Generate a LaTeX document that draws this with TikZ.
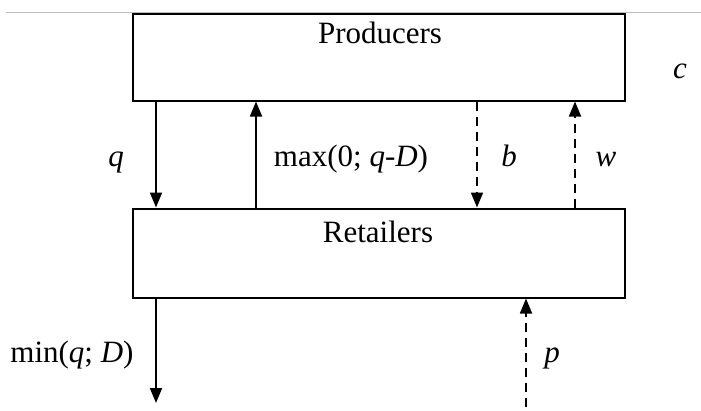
\documentclass[tikz,border=0pt]{standalone}
\usepackage{fontspec}
\setmainfont{Liberation Serif}
\usetikzlibrary{arrows.meta}
\begin{document}
\begin{tikzpicture}[x=1pt,y=-1pt,
  every node/.style={font=\fontsize{31}{36}\selectfont, inner sep=0pt},
  party/.style={draw, line width=2pt, minimum width=492pt},
  flow/.style={line width=1.8pt, -{Triangle[length=15pt,width=12pt]}},
  info/.style={flow, dash pattern=on 9pt off 6pt},
  lbl/.style={anchor=base}]
  \useasboundingbox (0,0) rectangle (701,410);
  % thin rule across the top
  \draw[gray!50, line width=1pt] (6,12) -- (701,12);
  % the two boxes
  \node[party, minimum height=87pt] (prod) at (379,57) {};
  \node[party, minimum height=89pt] (ret) at (379,253) {};
  \node[lbl] (prodt) at (380,43) {Producers};
  \node[lbl] (rett) at (378,242) {Retailers};
  \node[lbl] (c) at (680,78) {\textit{c}};
  % column positions of the flows
  \coordinate (xq) at (156,0);
  \coordinate (xm) at (256,0);
  \coordinate (xb) at (477,0);
  \coordinate (xw) at (575,0);
  \coordinate (minend) at (156,403);
  \coordinate (pstart) at (526,407);
  % physical flows
  \draw[flow] (prod.south -| xq) -- (ret.north -| xq);
  \draw[flow] (ret.north -| xm) -- (prod.south -| xm);
  \draw[flow] (ret.south -| xq) -- (minend);
  % payments / prices
  \draw[info] (prod.south -| xb) -- (ret.north -| xb);
  \draw[info] (ret.north -| xw) -- (prod.south -| xw);
  \draw[info] (pstart) -- (ret.south -| pstart);
  % labels
  \node[lbl] (lq) at (116,166) {\textit{q}};
  \node[lbl] (lmax) at (351,166) {max(0; \textit{q}-\textit{D})};
  \node[lbl] (lb) at (509,166) {\textit{b}};
  \node[lbl] (lw) at (606,166) {\textit{w}};
  \node[lbl] (lmin) at (72,362) {min(\textit{q}; \textit{D})};
  \node[lbl] (lp) at (552,362) {\textit{p}};
\end{tikzpicture}
\end{document}
